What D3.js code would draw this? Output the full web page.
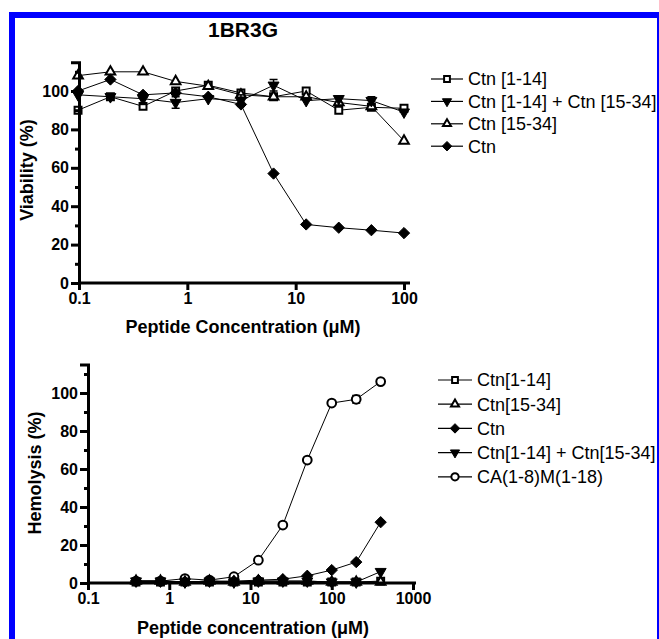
<!DOCTYPE html>
<html><head><meta charset="utf-8">
<script src="https://cdn.jsdelivr.net/npm/d3@7"></script>
<style>
html,body{margin:0;padding:0;background:#fff;}
svg{display:block;font-family:"Liberation Sans",Arial,Helvetica,sans-serif;}
</style></head>
<body>
<svg id="c" width="659" height="639"></svg>
<script>
// ---------- DATA ----------
const titleText = "1BR3G";
const viabConc = [0.098, 0.195, 0.39, 0.78, 1.56, 3.125, 6.25, 12.5, 25, 50, 100];
const viabCtn1_14 = [90, 97, 92, 100, 103, 99, 97, 100, 90, 91.5, 91];
const viabCombo = [98, 97, 96, 94, 96, 95, 103, 95, 96, 95, 89];
const viabComboErr = [0, 0, 3, 3, 0, 3, 3, 0, 0, 2, 0];
const viabCtn15_34 = [108, 110, 110, 105, 102.5, 98, 97, 97, 94, 92, 74];
const viabCtn = [100, 106, 98, 99, 97, 93, 57, 30.5, 28.8, 27.5, 26];
const viabLegend = ["Ctn [1-14]", "Ctn [1-14] + Ctn [15-34]", "Ctn [15-34]", "Ctn"];
const viabYTicks = [0, 20, 40, 60, 80, 100];
const viabYMinor = [10, 30, 50, 70, 90, 110];
const viabXTicks = [0.1, 1, 10, 100];
const viabXTickLabels = ["0.1", "1", "10", "100"];

const hemoConc = [0.39, 0.78, 1.56, 3.125, 6.25, 12.5, 25, 50, 100, 200, 400];
const hemoCtn1_14 = [0.5, 0.5, 0.5, 0.5, 0.5, 0.5, 0.5, 0.5, 0.5, 0.5, 1];
const hemoCtn15_34 = [1, 1, 0.5, 1, 0.5, 1, 1, 1, 0.5, 0.5, 0.5];
const hemoCtn = [1, 1, 0.5, 1, 1, 1.5, 2, 3.8, 6.8, 11, 32];
const hemoCombo = [1, 1, 0.5, 1, 0.5, 1, 1, 1, 0.5, 0.5, 6];
const hemoCA = [1, 1, 2.3, 1.5, 3.3, 12, 30.5, 64.7, 94.7, 96.7, 106];
const hemoCAErr = [0, 0, 0, 0, 0, 0, 0, 0, 0, 2, 0];
const hemoLegend = ["Ctn[1-14]", "Ctn[15-34]", "Ctn", "Ctn[1-14] + Ctn[15-34]", "CA(1-8)M(1-18)"];
const hemoYTicks = [0, 20, 40, 60, 80, 100];
const hemoYMinor = [10, 30, 50, 70, 90, 110];
const hemoXTicks = [0.1, 1, 10, 100, 1000];
const hemoXTickLabels = ["0.1", "1", "10", "100", "1000"];

const xTitleTop = "Peptide Concentration (\u03bcM)";
const yTitleTop = "Viability (%)";
const xTitleBot = "Peptide concentration (\u03bcM)";
const yTitleBot = "Hemolysis (%)";

// ---------- DRAW ----------
const svg = d3.select("#c");
const blue = "#0000ff";
// frame
svg.append("line").attr("x1",12).attr("x2",12).attr("y1",12).attr("y2",639).attr("stroke",blue).attr("stroke-width",6);
svg.append("line").attr("x1",9).attr("x2",659).attr("y1",15).attr("y2",15).attr("stroke",blue).attr("stroke-width",6);
svg.append("line").attr("x1",658).attr("x2",658).attr("y1",12).attr("y2",639).attr("stroke",blue).attr("stroke-width",2);

const diamondType = {draw(ctx, size){ const r = Math.sqrt(size/2); ctx.moveTo(0,-r); ctx.lineTo(r,0); ctx.lineTo(0,r); ctx.lineTo(-r,0); ctx.closePath(); }};
const markers = {
  square: {type: d3.symbolSquare, size: 48, fill: "#fff", rot: 0},
  tri: {type: d3.symbolTriangle, size: 40, fill: "#fff", rot: 0},
  down: {type: d3.symbolTriangle, size: 52, fill: "#000", rot: 180},
  diamond: {type: diamondType, size: 64, fill: "#000", rot: 0},
  circle: {type: d3.symbolCircle, size: 60, fill: "#fff", rot: 0}
};
function marker(g, kind, x, y, scale){
  const m = markers[kind];
  g.append("path").attr("d", d3.symbol().type(m.type).size(m.size * (scale || 1))())
    .attr("transform", `translate(${x},${y}) rotate(${m.rot})`)
    .attr("fill", m.fill).attr("stroke", "#000").attr("stroke-width", m.fill === "#fff" ? 2 : 1);
}

function panel(cfg){
  const g = svg.append("g");
  const x = d3.scaleLog().domain(cfg.xDomain).range(cfg.xRange);
  const y = d3.scaleLinear().domain([0, 115]).range(cfg.yRange);
  // series (drawn in drawOrder)
  cfg.drawOrder.forEach(k => {
    const s = cfg.series[k];
    const pts = cfg.conc.map((c, i) => [c, s.values[i]]);
    g.append("path").datum(pts)
      .attr("d", d3.line().x(d => x(d[0])).y(d => y(d[1])))
      .attr("fill", "none").attr("stroke", "#000").attr("stroke-width", 1);
    if (s.err) {
      s.err.forEach((e, i) => {
        if (!e) return;
        const cx = x(cfg.conc[i]);
        const y0 = y(s.values[i] - e), y1 = y(s.values[i] + e);
        g.append("line").attr("x1",cx).attr("x2",cx).attr("y1",y0).attr("y2",y1).attr("stroke","#000").attr("stroke-width",1.5);
        [y0, y1].forEach(yy => g.append("line").attr("x1",cx-4).attr("x2",cx+4).attr("y1",yy).attr("y2",yy).attr("stroke","#000").attr("stroke-width",1.5));
      });
    }
    pts.forEach(d => marker(g, s.marker, x(d[0]), y(d[1])));
  });
  // axes
  const xAx = g.append("g").attr("transform", `translate(0,${cfg.yRange[0]})`)
    .call(d3.axisBottom(x).tickValues(cfg.xTicks).tickFormat((d, i) => cfg.xTickLabels[i]).tickSizeOuter(0).tickSize(7).tickPadding(3));
  xAx.select(".domain").remove();
  g.append("line").attr("x1", cfg.xRange[0]).attr("x2", cfg.xRange[1] + cfg.xExt)
    .attr("y1", cfg.yRange[0]).attr("y2", cfg.yRange[0]).attr("stroke", "#000").attr("stroke-width", 3);
  const yAx = g.append("g").attr("transform", `translate(${cfg.xRange[0]},0)`)
    .call(d3.axisLeft(y).tickValues(cfg.yTicks).tickSizeOuter(0).tickSize(8).tickPadding(2));
  const yMin = g.append("g").attr("transform", `translate(${cfg.xRange[0]},0)`)
    .call(d3.axisLeft(y).tickValues(cfg.yMinor).tickFormat("").tickSizeOuter(0).tickSize(4));
  yMin.select(".domain").remove();
  [xAx, yAx, yMin].forEach(a => {
    a.selectAll(".tick line").attr("stroke-width", 3);
    a.selectAll("text").attr("font-size", 16).attr("font-weight", "bold").attr("fill", "#000")
      .attr("font-family", "Liberation Sans, Arial, sans-serif");
  });
  yAx.select(".domain").attr("stroke-width", 3);
  // titles
  g.append("text").attr("x", cfg.xTitlePos[0]).attr("y", cfg.xTitlePos[1]).attr("text-anchor", "middle")
    .attr("font-size", 18).attr("font-weight", "bold").text(cfg.xTitle);
  g.append("text").attr("transform", `translate(${cfg.yTitlePos[0]},${cfg.yTitlePos[1]}) rotate(-90)`)
    .attr("text-anchor", "middle").attr("dy", "0.35em").attr("font-size", 18).attr("font-weight", "bold").text(cfg.yTitle);
  // legend
  cfg.legend.forEach((lab, i) => {
    const ly = cfg.legPos[1] + i * cfg.legStep;
    const lx0 = cfg.legPos[0], lx1 = cfg.legPos[0] + cfg.legLen;
    g.append("line").attr("x1", lx0).attr("x2", lx1).attr("y1", ly).attr("y2", ly).attr("stroke", "#000").attr("stroke-width", 1.2);
    marker(g, cfg.legMarkers[i], (lx0 + lx1) / 2, ly, 0.7);
    g.append("text").attr("x", lx1 + 5).attr("y", ly).attr("dy", "0.35em").attr("font-size", 18).text(lab);
  });
}

svg.append("text").attr("x", 243).attr("y", 37).attr("text-anchor", "middle")
  .attr("font-size", 21).attr("font-weight", "bold").text(titleText);

panel({
  conc: viabConc, xDomain: [0.1, 100], xRange: [79, 404], xExt: 6, yRange: [283, 283 - 115 * 1.92],
  xTicks: viabXTicks, xTickLabels: viabXTickLabels, yTicks: viabYTicks, yMinor: viabYMinor,
  series: [
    {values: viabCtn1_14, marker: "square"},
    {values: viabCombo, marker: "down", err: viabComboErr},
    {values: viabCtn15_34, marker: "tri"},
    {values: viabCtn, marker: "diamond"}
  ],
  drawOrder: [0, 2, 3, 1],
  xTitle: xTitleTop, xTitlePos: [243, 333], yTitle: yTitleTop, yTitlePos: [27, 170],
  legend: viabLegend, legMarkers: ["square", "down", "tri", "diamond"], legPos: [431, 79], legStep: 22.4, legLen: 32
});

panel({
  conc: hemoConc, xDomain: [0.1, 1000], xRange: [88, 413], xExt: 3, yRange: [583, 583 - 115 * 1.9],
  xTicks: hemoXTicks, xTickLabels: hemoXTickLabels, yTicks: hemoYTicks, yMinor: hemoYMinor,
  series: [
    {values: hemoCtn1_14, marker: "square"},
    {values: hemoCtn15_34, marker: "tri"},
    {values: hemoCtn, marker: "diamond"},
    {values: hemoCombo, marker: "down"},
    {values: hemoCA, marker: "circle", err: hemoCAErr}
  ],
  drawOrder: [4, 0, 1, 3, 2],
  xTitle: xTitleBot, xTitlePos: [253, 634], yTitle: yTitleBot, yTitlePos: [35, 473],
  legend: hemoLegend, legMarkers: ["square", "tri", "diamond", "down", "circle"], legPos: [438, 380], legStep: 24.2, legLen: 34
});
</script>
</body></html>
